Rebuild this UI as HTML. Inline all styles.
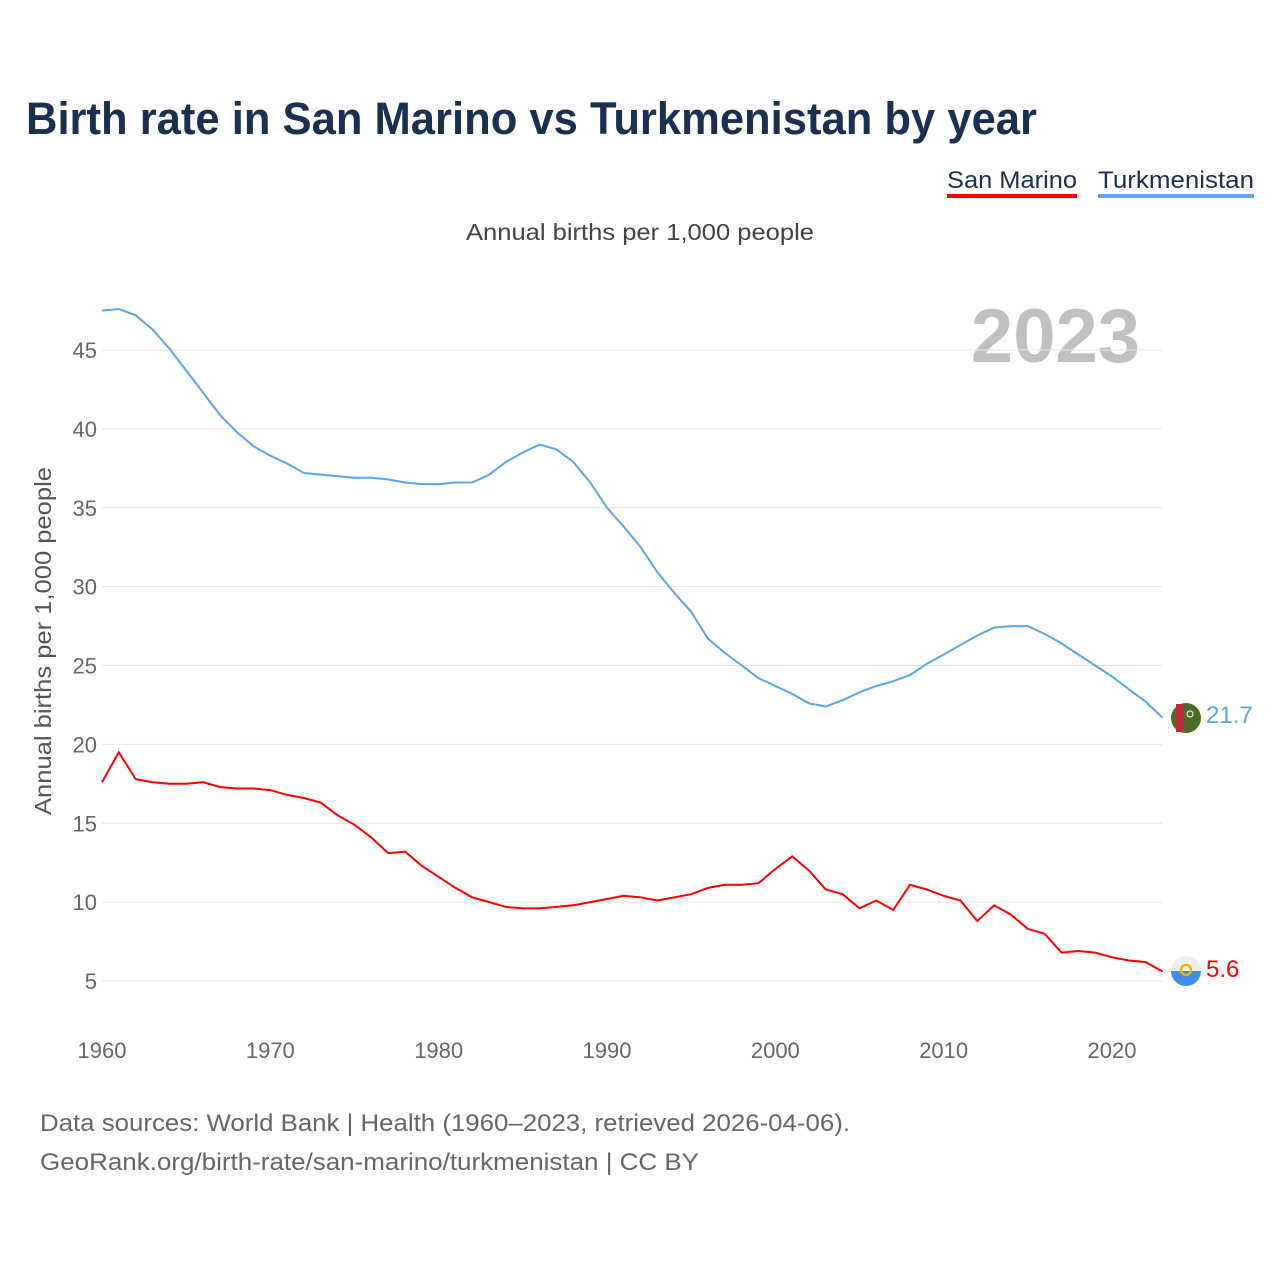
<!DOCTYPE html>
<html><head><meta charset="utf-8"><style>
body{margin:0;background:#fff;width:1280px;height:1280px;overflow:hidden;font-family:"Liberation Sans",sans-serif}
</style></head><body>
<svg width="1280" height="1280" id="svg" xmlns="http://www.w3.org/2000/svg">
<text x="26" y="134" font-size="45" font-weight="bold" fill="#1b3050" textLength="1011" lengthAdjust="spacingAndGlyphs">Birth rate in San Marino vs Turkmenistan by year</text>
<g><text x="947" y="188" font-size="24" fill="#1b3050" textLength="130" lengthAdjust="spacingAndGlyphs">San Marino</text><rect x="947" y="194" width="130" height="4" fill="#ff0000"/></g>
<g><text x="1098" y="188" font-size="24" fill="#1b3050" textLength="156" lengthAdjust="spacingAndGlyphs">Turkmenistan</text><rect x="1098" y="194" width="156" height="4" fill="#5aa5ee"/></g>
<text x="466" y="240" font-size="23" fill="#444" textLength="348" lengthAdjust="spacingAndGlyphs">Annual births per 1,000 people</text>
<text x="1140" y="362" font-size="76" font-weight="bold" fill="#c0c0c0" text-anchor="end">2023</text>
<text transform="translate(51,815) rotate(-90)" font-size="23" fill="#555" textLength="348" lengthAdjust="spacingAndGlyphs">Annual births per 1,000 people</text>
<g id="grid"></g><g id="lines"></g>
<g><circle cx="1186" cy="718" r="15" fill="#4a6d2a"/><rect x="1176" y="704" width="7" height="28" fill="#d0203a"/><circle cx="1190" cy="714" r="3" fill="none" stroke="#fff" stroke-width="1"/></g>
<g><clipPath id="c"><circle cx="1186" cy="971" r="15"/></clipPath><g clip-path="url(#c)"><rect x="1170" y="955" width="32" height="16" fill="#eee"/><rect x="1170" y="971" width="32" height="16" fill="#3e8ee8"/></g><circle cx="1186" cy="970" r="5" fill="none" stroke="#e6b800" stroke-width="2.5"/></g>
<text x="1206" y="723" font-size="24" fill="#5aa5ee">21.7</text>
<text x="1206" y="977" font-size="24" fill="#ff0000">5.6</text>
<text x="40" y="1131" font-size="24" fill="#666" textLength="810" lengthAdjust="spacingAndGlyphs">Data sources: World Bank | Health (1960–2023, retrieved 2026-04-06).</text>
<text x="40" y="1170" font-size="24" fill="#666" textLength="659" lengthAdjust="spacingAndGlyphs">GeoRank.org/birth-rate/san-marino/turkmenistan | CC BY</text>
</svg>
<script>
const years=[];for(let y=1960;y<=2023;y++)years.push(y);
const turkmenistan=[47.5,47.6,47.2,46.3,45.1,43.7,42.3,40.9,39.8,38.9,38.3,37.8,37.2,37.1,37.0,36.9,36.9,36.8,36.6,36.5,36.5,36.6,36.6,37.1,37.9,38.5,39.0,38.7,37.9,36.6,35.0,33.8,32.5,30.9,29.6,28.4,26.7,25.8,25.0,24.2,23.7,23.2,22.6,22.4,22.8,23.3,23.7,24.0,24.4,25.1,25.7,26.3,26.9,27.4,27.5,27.5,27.0,26.4,25.7,25.0,24.3,23.5,22.7,21.7];
const sanMarino=[17.6,19.5,17.8,17.6,17.5,17.5,17.6,17.3,17.2,17.2,17.1,16.8,16.6,16.3,15.5,14.9,14.1,13.1,13.2,12.3,11.6,10.9,10.3,10.0,9.7,9.6,9.6,9.7,9.8,10.0,10.2,10.4,10.3,10.1,10.3,10.5,10.9,11.1,11.1,11.2,12.1,12.9,12.0,10.8,10.5,9.6,10.1,9.5,11.1,10.8,10.4,10.1,8.8,9.8,9.2,8.3,8.0,6.8,6.9,6.8,6.5,6.3,6.2,5.6];
const yTicks=[5,10,15,20,25,30,35,40,45];
const xTicks=[1960,1970,1980,1990,2000,2010,2020];
const X=y=>102+(y-1960)*1010/60, Y=v=>981-(v-5)*631/40;
const NS="http://www.w3.org/2000/svg";
const g=document.getElementById('grid'),L=document.getElementById('lines');
function mk(t,a,p){const e=document.createElementNS(NS,t);for(const k in a)e.setAttribute(k,a[k]);p.appendChild(e);return e;}
yTicks.forEach(v=>{
 const l=mk('line',{x1:102,x2:1162,y1:Y(v),y2:Y(v),stroke:'#e6e6e6','stroke-width':1},g);
 
 
 const t=mk('text',{x:97,y:Y(v)+8,'font-size':22,fill:'#666','text-anchor':'end'},g);t.textContent=v;
 
 
});
xTicks.forEach(v=>{
 const t=mk('text',{x:X(v),y:1058,'font-size':22,fill:'#666','text-anchor':'middle'},g);t.textContent=v;
 
 
});
function line(d,c,n){
 const p=mk('path',{d:d.map((v,i)=>(i?'L':'M')+X(years[i]).toFixed(1)+','+Y(v).toFixed(1)).join(''),fill:'none',stroke:c,'stroke-width':2},L);
 
 
}
line(turkmenistan,'#5aa5ee','turkmenistan-line');
line(sanMarino,'#ff0000','san-marino-line');
</script>
</body></html>
